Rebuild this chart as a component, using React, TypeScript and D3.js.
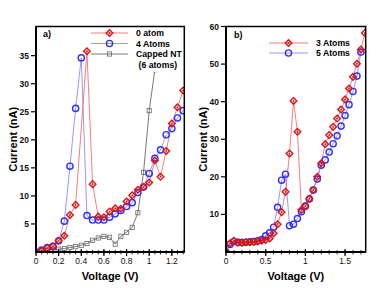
import React from "react";
import * as d3 from "d3";

// ---------- Panel a data ----------
const voltA = [0, 0.05, 0.1, 0.15, 0.2, 0.25, 0.3, 0.35, 0.4, 0.45, 0.5, 0.55, 0.6, 0.65, 0.7, 0.75, 0.8, 0.85, 0.9, 0.95, 1.0, 1.05, 1.1, 1.15, 1.2, 1.25, 1.3];
const atom0: (number | null)[] = [0, 0.2, 0.7, 1.0, 2.0, 2.9, 6.6, 8.4, null, 35.8, 12.1, 6.3, 6.2, 7.2, 7.8, 7.7, 9.0, 10.1, 11.1, 11.6, 12.4, 16.3, 13.4, 18.0, 22.9, 25.8, 28.8];
const atom4: (number | null)[] = [0, 0.35, 0.8, 1.0, 2.0, 5.5, 15.3, 25.6, 34.6, 6.5, 5.7, 5.7, 5.7, 6.2, 6.8, 7.4, 8.1, 8.8, 10.6, 11.6, 14.0, 16.7, 18.2, 20.9, 22.0, 23.9, 25.2];
const capped: (number | null)[] = [0, 0.2, 0.3, 0.45, 0.5, 0.6, 0.8, 0.95, 1.2, 1.5, 2.1, 2.5, 2.8, 2.6, 1.4, 2.8, 3.5, 4.4, 7.0, 14.2, 25.2, 32.5];
const ticksAx = [0, 0.2, 0.4, 0.6, 0.8, 1.0, 1.2];
const ticksAy = [5, 10, 15, 20, 25, 30, 35];

// ---------- Panel b data ----------
const voltB = [0, 0.05, 0.1, 0.15, 0.2, 0.25, 0.3, 0.35, 0.4, 0.45, 0.5, 0.55, 0.6, 0.65, 0.7, 0.75, 0.8, 0.85, 0.9, 0.95, 1.0, 1.05, 1.1, 1.15, 1.2, 1.25, 1.3, 1.35, 1.4, 1.45, 1.5, 1.55, 1.6, 1.65, 1.7, 1.75];
const atom3: (number | null)[] = [0, 2.3, 3.0, 2.5, 2.5, 2.6, 2.6, 2.7, 2.8, 3.0, 3.2, 3.6, 5.0, 7.4, 10.6, 16.0, 26.2, 40.2, 32.0, 11.2, 12.2, 14.2, 16.5, 20.0, 23.6, 28.7, 31.1, 33.3, 35.5, 37.9, 40.6, 43.5, 46.6, 50.1, 53.9, 58.3];
const atom5: (number | null)[] = [0, 2.0, 2.8, 2.6, 2.5, 2.6, 2.7, 2.8, 3.0, 3.3, 4.3, 5.1, 6.6, 11.9, 19.1, 20.7, 7.0, 7.4, 8.9, 10.7, 12.2, 14.1, 16.5, 19.4, 23.1, 24.5, 26.6, 28.8, 30.9, 33.5, 36.3, 39.2, 42.7, 46.8, 53.2];
const ticksBx = [0, 0.5, 1.0, 1.5];
const ticksBy = [10, 20, 30, 40, 50, 60];

const RED = "#e01010";
const RED_LINE = "#f07070";
const BLUE = "#3030ff";
const BLUE_LINE = "#8c8cff";
const GRAY = "#6a6a6a";
const GRAY_LINE = "#555";
const FONT = "'Liberation Sans', Arial, Helvetica, sans-serif";

type Marker = "diamond" | "circle" | "square";

function MarkerShape({ kind, x, y, color }: { kind: Marker; x: number; y: number; color: string }) {
  if (kind === "diamond") {
    const r = 3.3;
    return (
      <g>
        <path d={`M${x},${y - r}L${x + r},${y}L${x},${y + r}L${x - r},${y}Z`} fill="none" stroke={color} strokeWidth={1.4} />
        <circle cx={x} cy={y} r={0.9} fill={color} />
      </g>
    );
  }
  if (kind === "circle") {
    return <circle cx={x} cy={y} r={3.1} fill="none" stroke={color} strokeWidth={1.4} />;
  }
  return <rect x={x - 2.1} y={y - 2.1} width={4.2} height={4.2} fill="none" stroke={color} strokeWidth={0.8} />;
}

type Series = { volts: number[]; vals: (number | null)[]; kind: Marker; color: string; line: string; lw: number };

function Panel(props: {
  id: string;
  x0: number; x1: number; y0: number; y1: number;
  xDom: [number, number]; yDom: [number, number];
  xTicks: number[]; yTicks: number[]; minorStep: number; minorMax: number;
  series: Series[];
  tag: string; tagX: number; tagY: number;
  ylabX: number;
}) {
  const { x0, x1, y0, y1 } = props;
  const xs = d3.scaleLinear().domain(props.xDom).range([x0, x1]);
  const ys = d3.scaleLinear().domain(props.yDom).range([y1, y0]);
  const minors = d3.range(0, props.minorMax + 1e-9, props.minorStep);
  const fmt = (v: number) => String(+v.toFixed(2));
  return (
    <g>
      <defs>
        <clipPath id={`clip-${props.id}`}>
          <rect x={x0} y={y0} width={x1 - x0} height={y1 - y0} />
        </clipPath>
      </defs>
      <g clipPath={`url(#clip-${props.id})`}>
        {props.series.map((s, si) => {
          const pts = s.vals
            .map((v, i) => (v == null ? null : ([s.volts[i], v] as [number, number])))
            .filter((p): p is [number, number] => p !== null);
          const line = d3.line<[number, number]>().x((d) => xs(d[0])).y((d) => ys(d[1]));
          return (
            <g key={si}>
              <path d={line(pts) || ""} fill="none" stroke={s.line} strokeWidth={s.lw} />
            </g>
          );
        })}
        {props.series.map((s, si) => (
          <g key={"m" + si}>
            {s.vals.map((v, i) =>
              v == null ? null : <MarkerShape key={i} kind={s.kind} x={xs(s.volts[i])} y={ys(v)} color={s.color} />
            )}
          </g>
        ))}
      </g>
      {/* frame */}
      <rect x={x0} y={y0} width={x1 - x0} height={y1 - y0} fill="none" stroke="#000" strokeWidth={1.5} />
      <line x1={x0} x2={x0} y1={y0} y2={y1} stroke="#000" strokeWidth={2} />
      <line x1={x0} x2={x1} y1={y1} y2={y1} stroke="#000" strokeWidth={2} />
      {/* x minor ticks */}
      {minors.map((m, i) => (
        <line key={"mn" + i} x1={xs(m)} x2={xs(m)} y1={y1 - 2} y2={y1 + 2.5} stroke="#000" strokeWidth={0.8} />
      ))}
      {props.xTicks.map((t, i) => (
        <g key={"xt" + i}>
          <line x1={xs(t)} x2={xs(t)} y1={y1 - 3} y2={y1 + 4} stroke="#000" strokeWidth={1.2} />
          <text x={xs(t)} y={264} textAnchor="middle" fontSize={8.5} fontFamily={FONT} fill="#111">
            {fmt(t)}
          </text>
        </g>
      ))}
      {props.yTicks.map((t, i) => (
        <g key={"yt" + i}>
          <line x1={x0 - 5} x2={x0} y1={ys(t)} y2={ys(t)} stroke="#000" strokeWidth={1.2} />
          <text x={x0 - 7} y={ys(t) + 3} textAnchor="end" fontSize={8.5} fontFamily={FONT} fontWeight="bold" fill="#111">
            {fmt(t)}
          </text>
        </g>
      ))}
      <text x={(x0 + x1) / 2} y={280} textAnchor="middle" fontSize={11} fontWeight="bold" fontFamily={FONT}>
        Voltage (V)
      </text>
      <text
        transform={`translate(${props.ylabX},${(y0 + y1) / 2}) rotate(-90)`}
        textAnchor="middle"
        fontSize={11}
        fontWeight="bold"
        fontFamily={FONT}
      >
        Current (nA)
      </text>
      <text x={props.tagX} y={props.tagY} fontSize={9} fontWeight="bold" fontFamily={FONT}>
        {props.tag}
      </text>
    </g>
  );
}

function LegendItem({ x0, x1, y, kind, color, line, label, lw }: { x0: number; x1: number; y: number; kind: Marker; color: string; line: string; label: string; lw: number }) {
  return (
    <g>
      <line x1={x0} x2={x1} y1={y} y2={y} stroke={line} strokeWidth={lw} />
      <MarkerShape kind={kind} x={(x0 + x1) / 2} y={y} color={color} />
      <text x={x1 + 8} y={y + 3.2} fontSize={8.7} fontWeight="bold" fontFamily={FONT}>
        {label}
      </text>
    </g>
  );
}

export default function App() {
  const seriesA: Series[] = [
    { volts: voltA, vals: capped, kind: "square", color: GRAY, line: GRAY_LINE, lw: 0.8 },
    { volts: voltA, vals: atom4, kind: "circle", color: BLUE, line: BLUE_LINE, lw: 0.9 },
    { volts: voltA, vals: atom0, kind: "diamond", color: RED, line: RED_LINE, lw: 0.9 },
  ];
  const seriesB: Series[] = [
    { volts: voltB, vals: atom5, kind: "circle", color: BLUE, line: BLUE_LINE, lw: 0.9 },
    { volts: voltB, vals: atom3, kind: "diamond", color: RED, line: RED_LINE, lw: 0.9 },
  ];
  return (
    <svg width={382} height={294} style={{ position: "absolute", left: 0, top: 0, background: "#fff" }}>
      <rect width={382} height={294} fill="#fff" />
      <Panel
        id="a"
        x0={36} x1={184.3} y0={26.5} y1={252}
        xDom={[0, 1.31]} yDom={[0, 40.2]}
        xTicks={ticksAx} yTicks={ticksAy} minorStep={0.05} minorMax={1.3}
        series={seriesA}
        tag="a)" tagX={43} tagY={37}
        ylabX={17}
      />
      {/* legend a with white background */}
      <rect x={91} y={28} width={91} height={44} fill="#fff" />
      <LegendItem x0={91} x1={128} y={33} kind="diamond" color={RED} line={RED_LINE} label="0 atom" lw={0.9} />
      <LegendItem x0={91} x1={128} y={43.5} kind="circle" color={BLUE} line={BLUE_LINE} label="4 Atoms" lw={0.9} />
      <LegendItem x0={91} x1={128} y={54} kind="square" color={GRAY} line={GRAY_LINE} label="Capped NT" lw={0.8} />
      <text x={138.5} y={67.5} fontSize={8.7} fontWeight="bold" fontFamily={FONT}>
        (6 atoms)
      </text>

      <Panel
        id="b"
        x0={226} x1={365.7} y0={26.5} y1={252}
        xDom={[0, 1.76]} yDom={[0, 60]}
        xTicks={ticksBx} yTicks={ticksBy} minorStep={0.1} minorMax={1.7}
        series={seriesB}
        tag="b)" tagX={234} tagY={38}
        ylabX={207}
      />
      <LegendItem x0={269} x1={308} y={43} kind="diamond" color={RED} line={RED_LINE} label="3 Atoms" lw={0.9} />
      <LegendItem x0={269} x1={308} y={53} kind="circle" color={BLUE} line={BLUE_LINE} label="5 Atoms" lw={0.9} />
    </svg>
  );
}
